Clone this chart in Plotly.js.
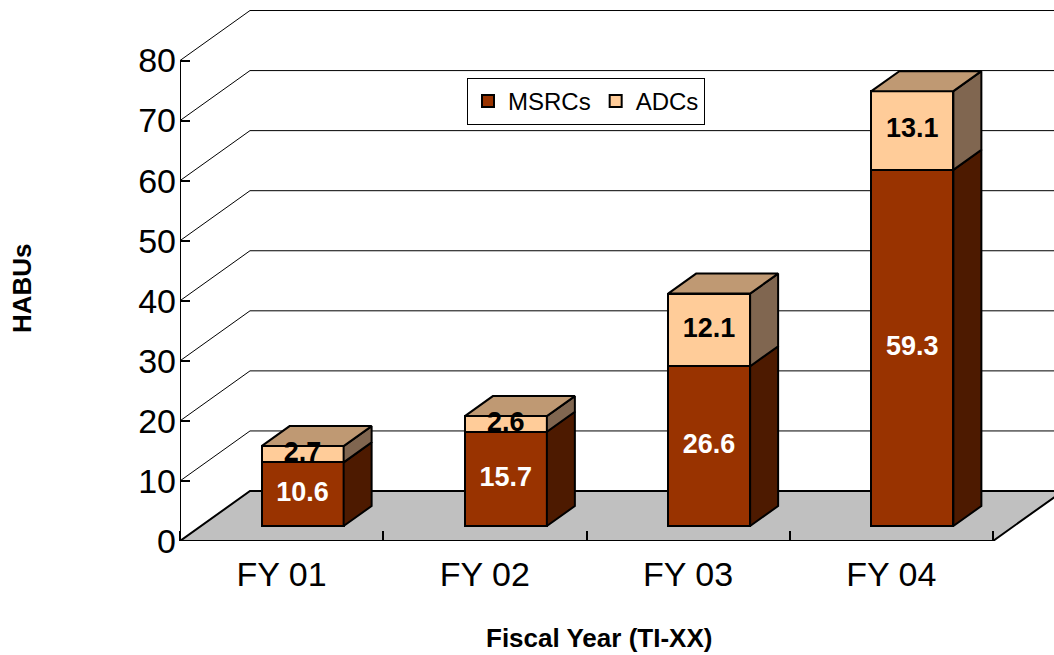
<!DOCTYPE html>
<html>
<head>
<meta charset="utf-8">
<script src="https://cdn.plot.ly/plotly-3.0.1.min.js"></script>
<style>html,body{margin:0;padding:0;background:#fff;overflow:hidden}#chart{width:1054px;height:655px}</style>
</head>
<body>
<div id="chart"></div>
<script>
const categories = ['FY 01', 'FY 02', 'FY 03', 'FY 04'];
const msrcs = [10.6, 15.7, 26.6, 59.3];
const adcs = [2.7, 2.6, 12.1, 13.1];
const yTicks = [0, 10, 20, 30, 40, 50, 60, 70, 80];

const xUnit = 203.25, yUnit = 6.006;          // px per category / per value
const wallDx = 70 / xUnit, wallDy = 50 / yUnit;
const frontDx = 21 / xUnit, frontDy = 15 / yUnit;
const depthDx = 28 / xUnit, depthDy = 20 / yUnit;
const barW = 82 / xUnit;
const xMin = -0.5, xMax = -0.5 + 874 / xUnit, yMax = 541 / yUnit;
const xEnd = categories.length - 0.5;

const idx = categories.map((_, i) => i);
const xFront = idx.map(i => i + frontDx);
const msrcBase = idx.map(() => frontDy);
const adcBase = idx.map(i => frontDy + msrcs[i]);

function faces(bases, vals, kind) {
  const xs = [], ys = [];
  idx.forEach(i => {
    const r = xFront[i] + barW / 2, l = xFront[i] - barW / 2;
    const b = bases[i], t = bases[i] + vals[i];
    if (kind === 'side') {
      xs.push(r, r + depthDx, r + depthDx, r, r, null);
      ys.push(b, b + depthDy, t + depthDy, t, b, null);
    } else {
      xs.push(l, l + depthDx, r + depthDx, r, l, null);
      ys.push(t, t + depthDy, t + depthDy, t, t, null);
    }
  });
  return {x: xs, y: ys};
}
function poly(f, color) {
  return {type: 'scatter', mode: 'lines', x: f.x, y: f.y, fill: 'toself', fillcolor: color,
    line: {color: '#000', width: 2}, showlegend: false, hoverinfo: 'skip'};
}
function labels(bases, vals, color) {
  return {type: 'scatter', mode: 'text', x: xFront, y: idx.map(i => bases[i] + vals[i] / 2),
    text: vals.map(v => v.toFixed(1)), textposition: 'middle center',
    textfont: {family: 'Liberation Sans, Arial, sans-serif', size: 27, color: color, weight: 700},
    showlegend: false, hoverinfo: 'skip', cliponaxis: false};
}

const traces = [
  {type: 'bar', name: 'MSRCs', x: xFront, y: msrcs, base: msrcBase, width: barW,
   marker: {color: '#993300', line: {color: '#000', width: 2}}, hoverinfo: 'skip'},
  {type: 'bar', name: 'ADCs', x: xFront, y: adcs, base: adcBase, width: barW,
   marker: {color: '#FFCC99', line: {color: '#000', width: 2}}, hoverinfo: 'skip'},
  poly(faces(msrcBase, msrcs, 'side'), '#4D1A00'),
  poly(faces(adcBase, adcs, 'side'), '#806650'),
  poly(faces(adcBase, adcs, 'top'), '#BF9973'),
  labels(msrcBase, msrcs, '#fff'),
  labels(adcBase, adcs, '#000'),
  {type: 'scatter', mode: 'lines', x: [xMin, xMin, null, xMin, xEnd], y: [0, 80, null, 0, 0],
   line: {color: '#000', width: 2}, showlegend: false, hoverinfo: 'skip', cliponaxis: false}
];

const shapes = [{
  type: 'path', layer: 'below', xref: 'x', yref: 'y',
  path: `M${xMin},0 L${xMin + wallDx},${wallDy} L${xMax + 1},${wallDy} L${xEnd + wallDx},${wallDy} L${xEnd},0 Z`,
  fillcolor: '#C0C0C0', line: {color: '#000', width: 2}
}];
yTicks.slice(1).forEach(v => shapes.push({
  type: 'path', layer: 'below', xref: 'x', yref: 'y',
  path: `M${xMin},${v} L${xMin + wallDx},${v + wallDy} L${xMax + 1},${v + wallDy}`,
  line: {color: '#000', width: 1}
}));

const layout = {
  width: 1054, height: 655, autosize: false,
  margin: {l: 180, r: 0, t: 0, b: 114, pad: 0},
  paper_bgcolor: '#fff', plot_bgcolor: 'rgba(0,0,0,0)',
  font: {family: 'Liberation Sans, Arial, sans-serif', color: '#000'},
  barmode: 'overlay', bargap: 0,
  hovermode: false,
  xaxis: {range: [xMin, xMax], tickmode: 'array', tickvals: idx, ticktext: categories,
    showgrid: false, zeroline: false, showline: false, ticks: '', ticklabelstandoff: 10,
    tickfont: {size: 34},
    minor: {tickmode: 'array', tickvals: [-0.5, 0.5, 1.5, 2.5, 3.5], ticks: 'inside', ticklen: 10,
      tickwidth: 1.5, tickcolor: '#000', showgrid: false}},
  yaxis: {range: [0, yMax], tickmode: 'array', tickvals: yTicks, showgrid: false, zeroline: false,
    showline: false, ticks: 'inside', ticklen: 10, tickwidth: 1.5, tickcolor: '#000',
    ticklabelstandoff: 3, tickfont: {size: 34}},
  legend: {x: (467 - 180) / 874, y: 1 - 78 / 541, xanchor: 'left', yanchor: 'top', orientation: 'h',
    bgcolor: '#fff', bordercolor: '#000', borderwidth: 1, font: {size: 24},
    itemclick: false, itemdoubleclick: false},
  shapes: shapes,
  annotations: [
    {xref: 'paper', yref: 'paper', x: (599 - 180) / 874, y: (541 - 638) / 541, text: 'Fiscal Year (TI-XX)',
     showarrow: false, font: {size: 26, weight: 700}, xanchor: 'center', yanchor: 'middle'},
    {xref: 'paper', yref: 'paper', x: (22 - 180) / 874, y: (541 - 288) / 541, text: 'HABUs', textangle: -90,
     showarrow: false, font: {size: 26, weight: 700}, xanchor: 'center', yanchor: 'middle'}
  ]
};
Plotly.newPlot('chart', traces, layout, {displayModeBar: false, staticPlot: false});
</script>
</body>
</html>
